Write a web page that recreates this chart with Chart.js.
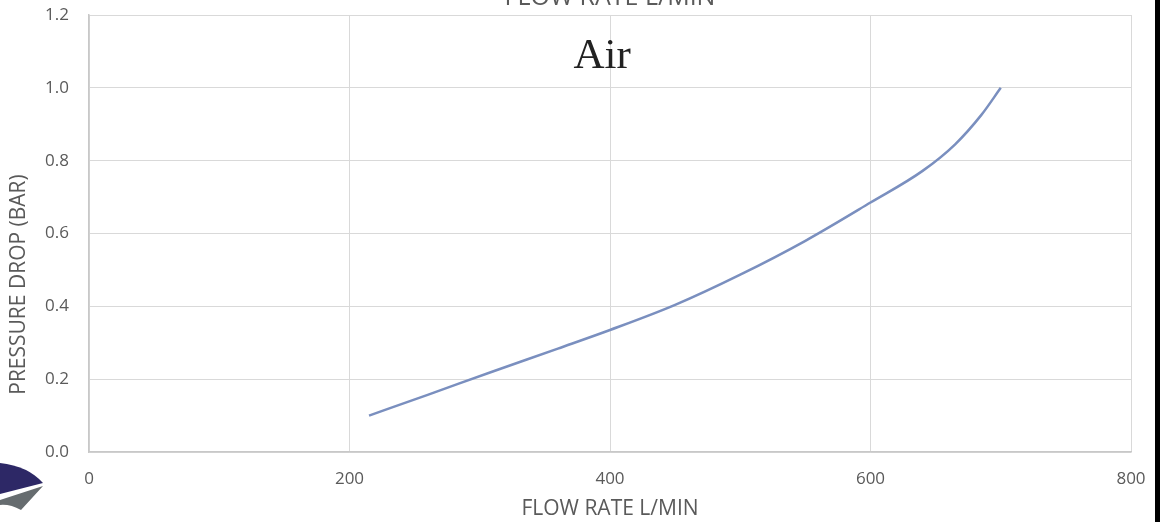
<!DOCTYPE html>
<html lang="en">
<head>
  <meta charset="UTF-8">
  <title>Air - Pressure Drop vs Flow Rate</title>
  <style>
    * { margin: 0; padding: 0; box-sizing: border-box; }
    body { background: #fff; width: 1160px; height: 522px; overflow: hidden; position: relative; }
    .chart-box { position: absolute; left: 0; top: 0; width: 1160px; height: 522px; }
    .edge { position: absolute; right: 0; top: 0; width: 5px; height: 522px; background: #000; }
    .logo { position: absolute; left: 0; top: 460px; }
  </style>
</head>
<body>
<div class="chart-box"><canvas id="airChart" width="1160" height="522"></canvas></div>
<svg class="logo" width="46" height="54" viewBox="0 0 46 54">
  <path d="M0 3 Q28 6 43 23 L0 34 Z" fill="#2d2866"/>
  <path d="M0 40 L43 26 L21 50 Q10 44 0 45 Z" fill="#666c6f"/>
</svg>
<div class="edge"></div>

<script src="https://cdn.jsdelivr.net/npm/chart.js"></script>
<script>
  // values
  const flowRate = [215, 260, 310, 360, 400, 450, 500, 550, 600, 640, 665, 685, 700];
  const pressureDrop = [0.10, 0.157, 0.221, 0.284, 0.335, 0.404, 0.487, 0.58, 0.685, 0.772, 0.845, 0.925, 1.0];
  const xTicks = [0, 200, 400, 600, 800];
  const yTicks = [0, 0.2, 0.4, 0.6, 0.8, 1.0, 1.2];

  const tickColor = '#5a5a5a';
  const gridColor = '#d9d9d9';

  // clipped top title, the y title (sits lower than centre) and the "Air" label
  const extraText = {
    id: 'extraText',
    afterDraw(chart) {
      const ctx = chart.ctx;
      const x = chart.scales.x;
      const y = chart.scales.y;
      ctx.save();
      ctx.fillStyle = tickColor;
      ctx.font = '25px "Open Sans"';
      ctx.textAlign = 'center';
      ctx.textBaseline = 'alphabetic';
      ctx.fillText('FLOW RATE L/MIN', x.getPixelForValue(400), 5);

      ctx.save();
      ctx.translate(19, y.getPixelForValue(0.46));
      ctx.rotate(-Math.PI / 2);
      ctx.textBaseline = 'middle';
      ctx.font = '21px "Open Sans"';
      ctx.fillText('PRESSURE DROP (BAR)', 0, 0);
      ctx.restore();

      ctx.fillStyle = '#222';
      ctx.font = '43px "Liberation Serif"';
      ctx.fillText('Air', x.getPixelForValue(394), 68);
      ctx.restore();
    }
  };

  new Chart(document.getElementById('airChart'), {
    type: 'scatter',
    data: {
      datasets: [{
        label: 'Air',
        data: flowRate.map((x, i) => ({ x: x, y: pressureDrop[i] })),
        showLine: true,
        borderColor: '#7a8fbf',
        borderWidth: 2.5,
        pointRadius: 0,
        cubicInterpolationMode: 'monotone'
      }]
    },
    options: {
      responsive: false,
      animation: false,
      devicePixelRatio: 1,
      layout: { padding: { top: 15, right: 29, bottom: 0, left: 0 } },
      plugins: { legend: { display: false }, tooltip: { enabled: false } },
      scales: {
        x: {
          type: 'linear',
          min: 0, max: 800,
          afterBuildTicks: s => { s.ticks = xTicks.map(v => ({ value: v })); },
          afterFit: s => { s.height = 70; s.paddingLeft = 0; s.paddingRight = 0; },
          grid: { color: gridColor, drawTicks: false },
          border: { color: '#c8c8c8', width: 1.5 },
          ticks: { color: tickColor, font: { family: 'Open Sans', size: 17 }, padding: 17, maxRotation: 0 },
          title: { display: true, text: 'FLOW RATE L/MIN', color: tickColor,
                   font: { family: 'Open Sans', size: 21 }, padding: { top: 0, bottom: 0 } }
        },
        y: {
          min: 0, max: 1.2,
          afterBuildTicks: s => { s.ticks = yTicks.map(v => ({ value: v })); },
          afterFit: s => { s.width = 89; s.paddingTop = 0; s.paddingBottom = 0; },
          grid: { color: gridColor, drawTicks: false },
          border: { color: '#c8c8c8', width: 1.5 },
          ticks: { color: tickColor, font: { family: 'Open Sans', size: 17 }, padding: 20,
                   callback: v => Number(v).toFixed(1) }
        }
      }
    },
    plugins: [extraText]
  });
</script>
</body>
</html>
